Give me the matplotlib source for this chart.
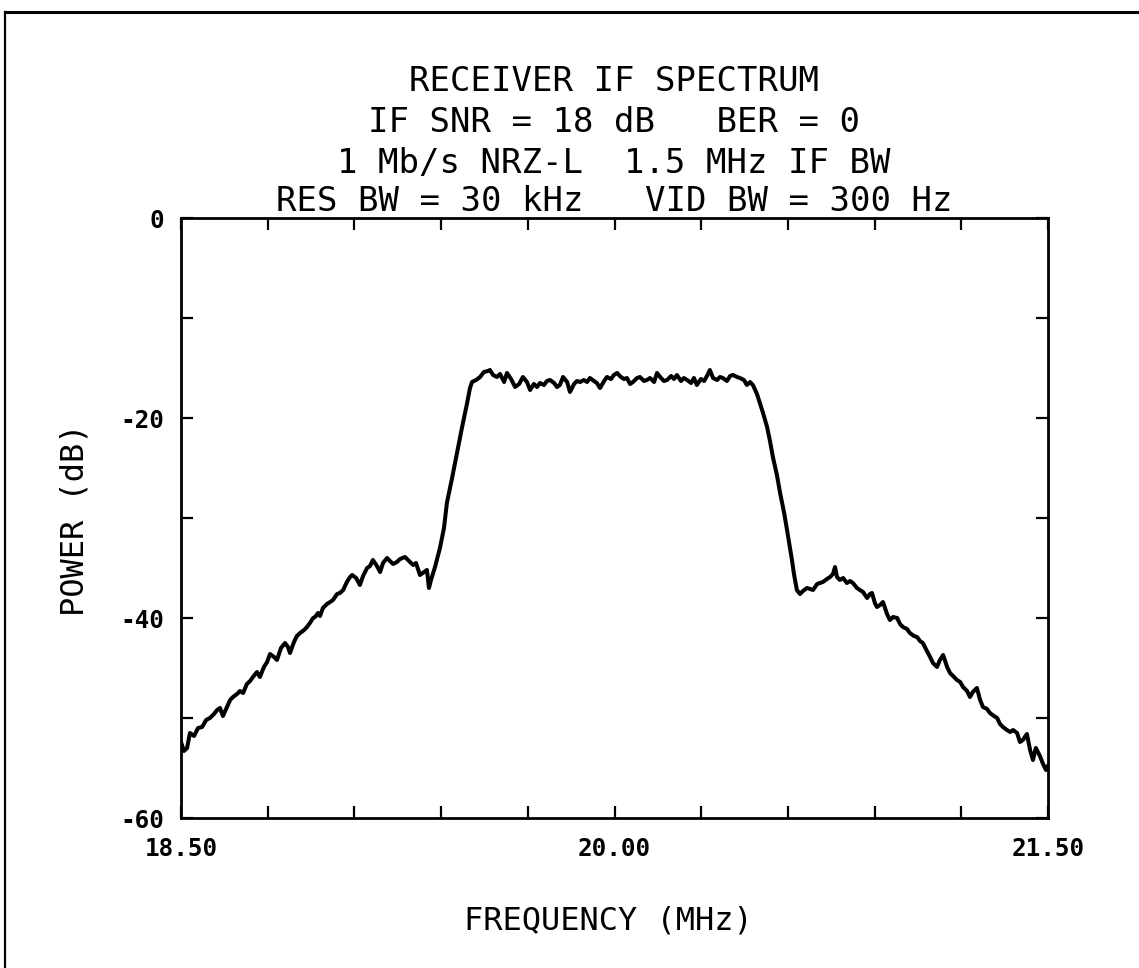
import numpy as np
import matplotlib
matplotlib.use("Agg")
import matplotlib.pyplot as plt
from matplotlib.lines import Line2D

# ---------------- data ----------------
freq_mhz = [
    18.500, 18.510, 18.521, 18.531, 18.545, 18.559, 18.573, 18.587, 18.600, 18.614,
    18.625, 18.635, 18.645, 18.659, 18.670, 18.680, 18.694, 18.704, 18.715, 18.728,
    18.739, 18.749, 18.763, 18.773, 18.787, 18.798, 18.808, 18.822, 18.832, 18.846,
    18.860, 18.870, 18.877, 18.891, 18.901, 18.912, 18.926, 18.936, 18.946, 18.957,
    18.964, 18.974, 18.981, 18.991, 19.005, 19.016, 19.026, 19.040, 19.050, 19.061,
    19.074, 19.085, 19.092, 19.106, 19.119, 19.130, 19.144, 19.154, 19.164, 19.178,
    19.189, 19.199, 19.213, 19.223, 19.234, 19.247, 19.258, 19.275, 19.289, 19.303,
    19.313, 19.327, 19.341, 19.351, 19.358, 19.365, 19.379, 19.396, 19.410, 19.420,
    19.438, 19.455, 19.472, 19.490, 19.500, 19.507, 19.521, 19.535, 19.548, 19.562,
    19.569, 19.580, 19.593, 19.604, 19.618, 19.628, 19.642, 19.656, 19.670, 19.683,
    19.697, 19.708, 19.721, 19.732, 19.742, 19.756, 19.766, 19.777, 19.791, 19.801,
    19.811, 19.822, 19.836, 19.846, 19.860, 19.870, 19.881, 19.894, 19.905, 19.915,
    19.929, 19.939, 19.950, 19.964, 19.974, 19.988, 19.998, 20.009, 20.022, 20.033,
    20.043, 20.054, 20.064, 20.078, 20.088, 20.102, 20.112, 20.123, 20.137, 20.147,
    20.161, 20.171, 20.182, 20.196, 20.206, 20.216, 20.230, 20.240, 20.251, 20.265,
    20.275, 20.285, 20.299, 20.310, 20.320, 20.330, 20.341, 20.355, 20.365, 20.375,
    20.389, 20.400, 20.410, 20.424, 20.434, 20.448, 20.458, 20.469, 20.479, 20.493,
    20.503, 20.514, 20.528, 20.538, 20.548, 20.562, 20.573, 20.587, 20.597, 20.607,
    20.614, 20.621, 20.631, 20.642, 20.652, 20.666, 20.676, 20.687, 20.701, 20.711,
    20.721, 20.735, 20.746, 20.756, 20.763, 20.770, 20.780, 20.791, 20.804, 20.815,
    20.825, 20.839, 20.849, 20.860, 20.874, 20.884, 20.891, 20.901, 20.908, 20.919,
    20.929, 20.943, 20.953, 20.964, 20.978, 20.988, 20.998, 21.012, 21.022, 21.036,
    21.047, 21.057, 21.067, 21.081, 21.092, 21.102, 21.116, 21.126, 21.137, 21.151,
    21.161, 21.175, 21.185, 21.196, 21.206, 21.220, 21.230, 21.240, 21.254, 21.265,
    21.275, 21.289, 21.299, 21.313, 21.324, 21.334, 21.344, 21.358, 21.369, 21.379,
    21.393, 21.403, 21.413, 21.427, 21.438, 21.448, 21.458, 21.472, 21.483, 21.493,
    21.500,
]

power_db = [
    -52.4, -53.3, -53.0, -51.5, -51.8, -51.0, -50.9, -50.2, -50.0, -49.6,
    -49.2, -49.0, -49.8, -48.9, -48.2, -47.9, -47.6, -47.3, -47.5, -46.6,
    -46.3, -45.9, -45.4, -45.9, -44.9, -44.4, -43.6, -43.9, -44.2, -43.0,
    -42.5, -42.9, -43.5, -42.4, -41.8, -41.5, -41.2, -40.9, -40.5, -40.0,
    -39.9, -39.5, -39.8, -39.0, -38.6, -38.4, -38.2, -37.6, -37.5, -37.2,
    -36.4, -35.9, -35.7, -36.0, -36.7, -35.8, -35.0, -34.8, -34.2, -34.8,
    -35.4, -34.5, -34.0, -34.3, -34.6, -34.4, -34.1, -33.9, -34.3, -34.7,
    -34.5, -35.7, -35.4, -35.2, -37.0, -36.2, -34.9, -33.0, -31.0, -28.5,
    -26.0, -23.5, -21.0, -18.5, -17.0, -16.4, -16.2, -15.9, -15.4, -15.3,
    -15.2, -15.7, -15.9, -15.6, -16.4, -15.5, -16.1, -16.9, -16.6, -15.9,
    -16.4, -17.2, -16.6, -16.9, -16.5, -16.7, -16.3, -16.2, -16.5, -16.9,
    -16.7, -15.9, -16.4, -17.4, -16.6, -16.3, -16.4, -16.2, -16.4, -16.0,
    -16.3, -16.5, -17.0, -16.3, -15.9, -16.1, -15.7, -15.5, -15.9, -16.1,
    -16.0, -16.6, -16.4, -16.0, -15.9, -16.3, -16.2, -16.0, -16.4, -15.5,
    -16.0, -16.3, -16.2, -15.8, -16.1, -15.7, -16.3, -16.0, -16.2, -16.5,
    -16.0, -16.7, -16.1, -16.3, -15.8, -15.2, -16.0, -16.2, -15.9, -16.0,
    -16.3, -15.8, -15.7, -15.9, -16.0, -16.2, -16.7, -16.4, -16.7, -17.6,
    -18.5, -19.5, -20.9, -22.3, -23.9, -25.7, -27.5, -29.5, -31.2, -33.0,
    -34.2, -35.6, -37.2, -37.6, -37.3, -37.0, -37.1, -37.2, -36.6, -36.5,
    -36.4, -36.1, -35.9, -35.6, -34.9, -35.9, -36.2, -36.0, -36.5, -36.3,
    -36.5, -37.0, -37.2, -37.4, -38.0, -37.6, -37.5, -38.5, -38.9, -38.7,
    -38.4, -39.6, -40.2, -39.9, -40.0, -40.6, -40.9, -41.1, -41.5, -41.8,
    -41.9, -42.3, -42.5, -43.3, -43.9, -44.5, -44.9, -44.2, -43.7, -44.9,
    -45.5, -45.9, -46.2, -46.4, -46.9, -47.3, -47.9, -47.4, -47.0, -48.2,
    -48.9, -49.1, -49.5, -49.8, -50.0, -50.6, -50.9, -51.2, -51.4, -51.2,
    -51.5, -52.4, -52.2, -51.6, -53.2, -54.2, -53.0, -53.8, -54.6, -55.2,
    -54.8,
]

title_lines = [
    "RECEIVER IF SPECTRUM",
    "IF SNR = 18 dB   BER = 0",
    "1 Mb/s NRZ-L  1.5 MHz IF BW",
    "RES BW = 30 kHz   VID BW = 300 Hz",
]
x_label = "FREQUENCY (MHz)"
y_label = "POWER (dB)"
x_min, x_max = 18.5, 21.5
y_min, y_max = -60, 0
x_tick_step = 0.3
x_labeled = [18.5, 20.0, 21.5]
x_labeled_text = ["18.50", "20.00", "21.50"]
y_tick_step = 10
y_labeled = [0, -20, -40, -60]
y_labeled_text = ["0", "-20", "-40", "-60"]

# ---------------- figure ----------------
W, H = 1139, 968
DPI = 100
FONT = ["DejaVu Sans Mono", "DejaVu Sans"]
fig = plt.figure(figsize=(W / DPI, H / DPI), dpi=DPI)
fig.patch.set_facecolor("white")

def fx(px):
    return px / W

def fy(py):
    return 1 - py / H

ax_l, ax_r, ax_t, ax_b = 181, 1048, 218, 818
ax = fig.add_axes([fx(ax_l), fy(ax_b), fx(ax_r - ax_l), (ax_b - ax_t) / H])

ax.plot(freq_mhz, power_db, color="black", lw=2.9, solid_joinstyle="round")

ax.set_xlim(x_min, x_max)
ax.set_ylim(y_min, y_max)

xt = np.arange(0, 11) * x_tick_step + x_min
yt = np.arange(y_min, y_max + 1, y_tick_step)
ax.set_xticks(xt)
ax.set_yticks(yt)
ax.set_xticklabels([x_labeled_text[x_labeled.index(round(v, 2))] if round(v, 2) in x_labeled else "" for v in xt])
ax.set_yticklabels([y_labeled_text[y_labeled.index(int(v))] if int(v) in y_labeled else "" for v in yt])

ax.tick_params(axis="both", direction="in", length=8.6, width=1.6, color="black",
               top=True, right=True, labelsize=17.5)
ax.tick_params(axis="x", pad=14)
ax.tick_params(axis="y", pad=12)
for lab in ax.get_xticklabels() + ax.get_yticklabels():
    lab.set_family(FONT)
    lab.set_weight("bold")
    lab.set_color("black")

for s in ax.spines.values():
    s.set_linewidth(2.0)
    s.set_color("black")

baselines = [91, 132, 173, 211]
for txt, b in zip(title_lines, baselines):
    fig.text(fx(614), fy(b), txt, ha="center", va="baseline", fontsize=24.5,
             family=FONT, color="black")

fig.text(fx(608), fy(930), x_label, ha="center", va="baseline", fontsize=23,
         family=FONT, color="black")
fig.text(fx(75), fy(520), y_label, ha="center", va="center", rotation=90,
         fontsize=23, family=FONT, color="black")

# page border (top and left edges only)
fig.add_artist(Line2D([fx(5), 1], [fy(12), fy(12)], transform=fig.transFigure,
                      color="black", lw=2.2))
fig.add_artist(Line2D([fx(5), fx(5)], [fy(12), 0], transform=fig.transFigure,
                      color="black", lw=1.6))

fig.savefig("out.png", dpi=DPI, facecolor="white")
